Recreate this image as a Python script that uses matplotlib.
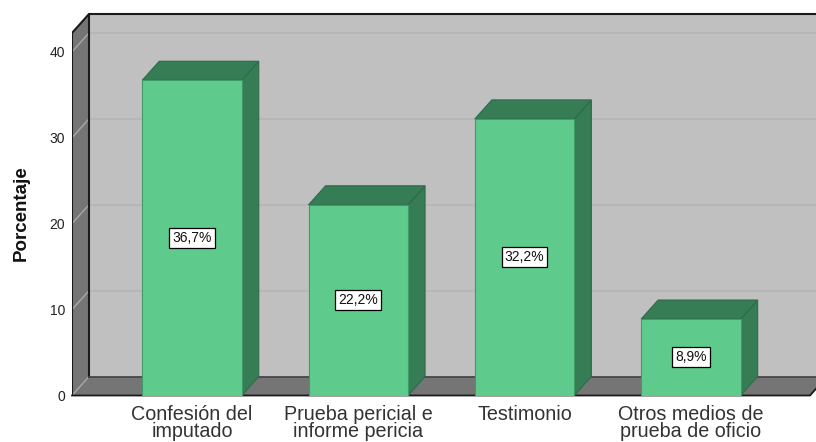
import matplotlib
matplotlib.use('Agg')
import matplotlib.pyplot as plt
from matplotlib.patches import Polygon, Rectangle

plt.rcParams['font.family'] = ['Liberation Sans', 'DejaVu Sans']

# datos
categorias = ['Confesión del\nimputado', 'Prueba pericial e\ninforme pericia',
              'Testimonio', 'Otros medios de\nprueba de oficio']
porcentajes = [36.7, 22.2, 32.2, 8.9]
etiquetas = ['36,7%', '22,2%', '32,2%', '8,9%']
ticks_y = [0, 10, 20, 30, 40]

# colores
GRIS_PARED = '#c0c0c0'
GRIS_LADO = '#757575'
GRIS_GRID = '#b4b4b4'
VERDE = '#5ecb8c'
VERDE_OSC = '#367c54'
BORDE = '#2f6b49'

W, H = 816, 442
PX_X = 166.3   # px por categoria
PX_Y = 8.59    # px por unidad

fig = plt.figure(figsize=(W / 100, H / 100), dpi=100)
ax = fig.add_axes([72 / W, (H - 395.5) / H, 1 - 72 / W, 395.5 / H])
ax.set_xlim(-120 / PX_X, 624 / PX_X)
ax.set_ylim(0, 395.5 / PX_Y)
ax.patch.set_visible(False)
for s in ax.spines.values():
    s.set_visible(False)

# profundidad del efecto 3D
dx = 17 / PX_X
dy = 19 / PX_Y
x0 = -120 / PX_X
x1 = 618 / PX_X
techo = 42.2

# pared del fondo, lateral y suelo
ax.add_patch(Polygon([(x0 + dx, dy), (x1 + dx, dy), (x1 + dx, techo + dy), (x0 + dx, techo + dy)],
                     fc=GRIS_PARED, ec='none', zorder=1))
ax.add_patch(Polygon([(x0, 0), (x0 + dx, dy), (x0 + dx, techo + dy), (x0, techo)],
                     fc=GRIS_LADO, ec='none', zorder=1))
ax.add_patch(Polygon([(x0, 0), (x1, 0), (x1 + dx, dy), (x0 + dx, dy)],
                     fc=GRIS_LADO, ec='none', zorder=1))

# rejilla
for t in ticks_y:
    if t > 0:
        ax.plot([x0 + dx, x1 + dx], [t + dy, t + dy], color=GRIS_GRID, lw=1.2, zorder=2)
    ax.plot([x0, x0 + dx], [t, t + dy], color='#a8a8a8', lw=1, zorder=2)

# bordes
negro = dict(color='#1a1a1a', lw=1.5, zorder=3, solid_capstyle='round')
ax.plot([x0, x0], [0, techo], **negro)
ax.plot([x0, x0 + dx, x1 + dx], [techo, techo + dy, techo + dy], **negro)
ax.plot([x0 + dx, x0 + dx], [techo + dy, dy], **negro)
ax.plot([x0 + dx, x1 + dx], [dy, dy], color='#444444', lw=1.2, zorder=3)
ax.plot([x0, x1, x1 + dx], [0, 0, dy], color='#1a1a1a', lw=1.3, zorder=3, clip_on=False)

# barras
ancho = 99.5 / PX_X
for i, v in enumerate(porcentajes):
    iz = i - ancho / 2
    de = i + ancho / 2
    ax.add_patch(Polygon([(de, 0), (de + dx, dy), (de + dx, v + dy), (de, v)],
                         fc=VERDE_OSC, ec=BORDE, lw=0.8, zorder=4))
    ax.add_patch(Polygon([(iz, v), (de, v), (de + dx, v + dy), (iz + dx, v + dy)],
                         fc=VERDE_OSC, ec=BORDE, lw=0.8, zorder=4))
    ax.add_patch(Rectangle((iz, 0), ancho, v, fc=VERDE, ec='#3f9a68', lw=0.8, zorder=5))
    ax.text(i, v / 2, etiquetas[i], ha='center', va='center', fontsize=10, color='#111111', zorder=6,
            bbox=dict(boxstyle='square,pad=0.22', fc='white', ec='black', lw=0.9))

ax.set_xticks(range(len(categorias)))
ax.set_xticklabels(categorias, fontsize=14.2, color='#333333', linespacing=0.9)
ax.set_yticks(ticks_y)
ax.set_yticklabels([str(t) for t in ticks_y], fontsize=10, color='#222222')
ax.tick_params(axis='both', length=0)
ax.tick_params(axis='x', pad=6.5)
ax.tick_params(axis='y', pad=5)

fig.text(21 / W, 1 - 213 / H, 'Porcentaje', rotation=90, ha='center', va='center',
         fontsize=13.5, fontweight='bold', color='#111111')

fig.savefig('out.png', dpi=100)
